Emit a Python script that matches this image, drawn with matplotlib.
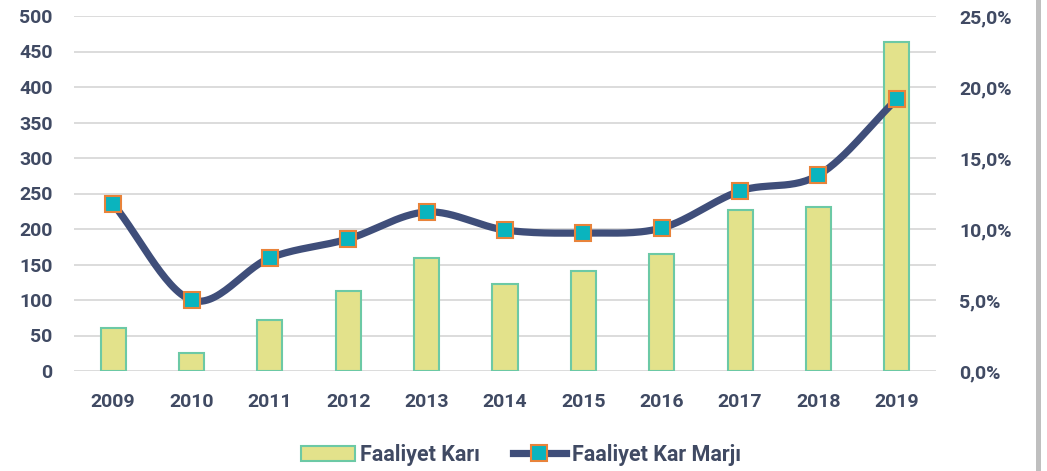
import numpy as np
import matplotlib
matplotlib.use("Agg")
import matplotlib.pyplot as plt
from matplotlib.lines import Line2D
from matplotlib.patches import Patch, Rectangle

years = ["2009", "2010", "2011", "2012", "2013", "2014", "2015", "2016", "2017", "2018", "2019"]
faaliyet_kari = [60, 26, 72, 113, 159, 122, 141, 165, 227, 231, 463]
kar_marji = [11.76, 5.0, 7.96, 9.3, 11.2, 9.93, 9.72, 10.07, 12.68, 13.8, 19.15]
left_ticks = [0, 50, 100, 150, 200, 250, 300, 350, 400, 450, 500]
right_ticks = [0, 5, 10, 15, 20, 25]
right_labels = ["0,0%", "5,0%", "10,0%", "15,0%", "20,0%", "25,0%"]

TXT = "#404A63"
BAR_FILL = "#E3E28B"
BAR_EDGE = "#6CC9A5"
LINE = "#3F4E7A"
MFACE = "#0AB4BE"
MEDGE = "#E8833A"
FONT = "Roboto"
FS = 14
FS_LEG = 15.5

def smooth(x, y, n=30):
    # Catmull-Rom spline through the points (rendering only)
    x = np.asarray(x, float); y = np.asarray(y, float)
    px = np.concatenate([[2*x[0]-x[1]], x, [2*x[-1]-x[-2]]])
    py = np.concatenate([[2*y[0]-y[1]], y, [2*y[-1]-y[-2]]])
    xs, ys = [], []
    for i in range(1, len(px)-2):
        t = np.linspace(0, 1, n, endpoint=False)
        for arr, out in ((px, xs), (py, ys)):
            p0, p1, p2, p3 = arr[i-1], arr[i], arr[i+1], arr[i+2]
            out.extend(0.5*((2*p1) + (-p0+p2)*t + (2*p0-5*p1+4*p2-p3)*t**2 + (-p0+3*p1-3*p2+p3)*t**3))
    xs.append(x[-1]); ys.append(y[-1])
    return np.array(xs), np.array(ys)

fig = plt.figure(figsize=(10.47, 4.71), dpi=100)
ax = fig.add_axes([74/1047, 1-371/471, (936-74)/1047, (371-16)/471])
ax2 = ax.twinx()

x = np.arange(len(years))
ax.bar(x, faaliyet_kari, width=0.32, color=BAR_FILL, edgecolor=BAR_EDGE, linewidth=1.5, zorder=2)
ax.set_xlim(-0.5, len(years)-0.5)
ax.set_ylim(0, 500)
ax.set_yticks(left_ticks)
ax.set_yticklabels([str(v) for v in left_ticks])
ax.grid(axis="y", color="#D9D9D9", linewidth=1.3, zorder=0)
ax.set_axisbelow(True)
ax.set_xticks(x)
ax.set_xticklabels(years)
for s in ax.spines.values():
    s.set_visible(False)
ax.tick_params(axis="both", length=0, labelcolor=TXT)
ax.tick_params(axis="y", pad=15.5)
ax.tick_params(axis="x", pad=16)
for lab in ax.get_yticklabels() + ax.get_xticklabels():
    lab.set_fontfamily(FONT); lab.set_fontweight("bold"); lab.set_fontsize(FS)

sx, sy = smooth(x, kar_marji)
ax2.plot(sx, sy, color=LINE, linewidth=5.2, solid_capstyle="round", zorder=3)
ax2.plot(x, kar_marji, linestyle="none", marker="s", markersize=11, markerfacecolor=MFACE,
         markeredgecolor=MEDGE, markeredgewidth=1.5, zorder=4)
ax2.set_ylim(0, 25)
ax2.set_yticks(right_ticks)
ax2.set_yticklabels(right_labels)
for s in ax2.spines.values():
    s.set_visible(False)
ax2.tick_params(axis="y", length=0, labelcolor=TXT, pad=16.5)
for lab in ax2.get_yticklabels():
    lab.set_fontfamily(FONT); lab.set_fontweight("bold"); lab.set_fontsize(FS)

handles = [Patch(facecolor=BAR_FILL, edgecolor=BAR_EDGE, linewidth=1.5, label="Faaliyet Karı"),
           Line2D([0], [0], color=LINE, linewidth=5.2, marker="s", markersize=11,
                  markerfacecolor=MFACE, markeredgecolor=MEDGE, markeredgewidth=1.5,
                  label="Faaliyet Kar Marjı")]
fig.legend(handles=handles, loc="center", bbox_to_anchor=(521/1047, 1-455/471), ncol=2,
           frameon=False, prop={"family": FONT, "weight": "bold", "size": FS_LEG},
           labelcolor=TXT, handlelength=2.5, handletextpad=0.25, columnspacing=1.5)

fig.patches.append(Rectangle((1036/1047, 0), 5/1047, 1, transform=fig.transFigure,
                             facecolor="#BFBFBF", edgecolor="none"))

fig.savefig("out.png", dpi=100)
